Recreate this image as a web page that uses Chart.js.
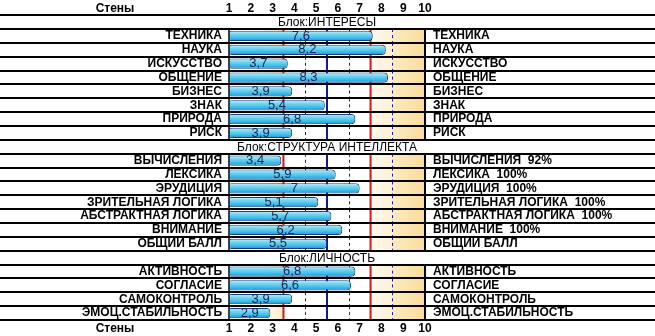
<!DOCTYPE html>
<html>
<head>
<meta charset="utf-8">
<script src="https://cdn.jsdelivr.net/npm/chart.js@4/dist/chart.umd.min.js"></script>
<style>
  html, body { margin: 0; padding: 0; background: #fff; }
  #wrap { width: 655px; height: 336px; position: relative; }
</style>
</head>
<body>
<div id="wrap"><canvas id="chart"></canvas></div>
<script>
// block titles and scales
const blockTitles = ['Блок:ИНТЕРЕСЫ', 'Блок:СТРУКТУРА ИНТЕЛЛЕКТА', 'Блок:ЛИЧНОСТЬ'];

const interestScales = ['ТЕХНИКА', 'НАУКА', 'ИСКУССТВО', 'ОБЩЕНИЕ', 'БИЗНЕС', 'ЗНАК', 'ПРИРОДА', 'РИСК'];
const interestValues = [7.6, 8.2, 3.7, 8.3, 3.9, 5.4, 6.8, 3.9];

const intellectScales = ['ВЫЧИСЛЕНИЯ', 'ЛЕКСИКА', 'ЭРУДИЦИЯ', 'ЗРИТЕЛЬНАЯ ЛОГИКА', 'АБСТРАКТНАЯ ЛОГИКА', 'ВНИМАНИЕ', 'ОБЩИИ БАЛЛ'];
const intellectValues = [3.4, 5.9, 7, 5.1, 5.7, 6.2, 5.5];
const intellectPercent = [92, 100, 100, 100, 100, 100, null];

const personalScales = ['АКТИВНОСТЬ', 'СОГЛАСИЕ', 'САМОКОНТРОЛЬ', 'ЭМОЦ.СТАБИЛЬНОСТЬ'];
const personalValues = [6.8, 6.6, 3.9, 2.9];

const axisTitle = 'Стены';
const stenMin = 1;
const stenMax = 10;
const redBounds = [3.5, 7.5];
const blueBounds = [5.5];
const dashedBounds = [4.5, 6.5, 8.5];

// flatten blocks into rows; header rows carry no value
let leftLabels = [];
let rightLabels = [];
let values = [];
let headerRows = {};

function addBlock(title, names, vals, pct) {
    headerRows[leftLabels.length] = title;
    leftLabels.push('');
    rightLabels.push('');
    values.push(null);
    for (let i = 0; i < names.length; ++i) {
        leftLabels.push(names[i]);
        rightLabels.push(pct && pct[i] != null ? names[i] + '  ' + pct[i] + '%' : names[i]);
        values.push(vals[i]);
    }
}
addBlock(blockTitles[0], interestScales, interestValues);
addBlock(blockTitles[1], intellectScales, intellectValues, intellectPercent);
addBlock(blockTitles[2], personalScales, personalValues);

const FONT = '"Liberation Sans", Arial, sans-serif';

function barFill(c) {
    const chart = c.chart;
    if (!chart.chartArea) return '#5ccbee';
    const cy = chart.scales.y.getPixelForValue(c.dataIndex);
    const g = chart.ctx.createLinearGradient(0, cy - 5, 0, cy + 5);
    g.addColorStop(0, '#c4f3fc');
    g.addColorStop(0.3, '#79d8f3');
    g.addColorStop(0.7, '#3fbbe9');
    g.addColorStop(1, '#2390cc');
    return g;
}

const sheetPlugin = {
    id: 'sheet',
    beforeDatasetsDraw(chart) {
        const ctx = chart.ctx;
        const x = chart.scales.x, y = chart.scales.y;
        const half = (y.getPixelForValue(1) - y.getPixelForValue(0)) / 2;
        const left = x.getPixelForValue(stenMin), right = x.getPixelForValue(stenMax);
        ctx.save();
        for (let i = 0; i < leftLabels.length; ++i) {
            const cy = y.getPixelForValue(i);
            const top = cy - half, bottom = cy + half;
            if (headerRows[i]) {
                ctx.fillStyle = '#000';
                ctx.font = '12px ' + FONT;
                ctx.textAlign = 'center';
                ctx.textBaseline = 'middle';
                ctx.fillText(headerRows[i], (left + right) / 2, cy + 1);
                continue;
            }
            // low and high zones
            let g = ctx.createLinearGradient(x.getPixelForValue(2.4), 0, x.getPixelForValue(redBounds[0]), 0);
            g.addColorStop(0, 'rgba(253,236,200,0)');
            g.addColorStop(1, 'rgba(253,236,200,1)');
            ctx.fillStyle = g;
            ctx.fillRect(x.getPixelForValue(2.4), top, x.getPixelForValue(redBounds[0]) - x.getPixelForValue(2.4), bottom - top);

            const hx = x.getPixelForValue(redBounds[1]);
            g = ctx.createLinearGradient(hx, 0, right, 0);
            g.addColorStop(0, '#fff8ec');
            g.addColorStop(0.4, '#fdf0d6');
            g.addColorStop(0.42, '#fdeac2');
            g.addColorStop(1, '#f9dc98');
            ctx.fillStyle = g;
            ctx.fillRect(hx, top, right - hx, bottom - top);

            ctx.setLineDash([3, 3]);
            ctx.strokeStyle = '#1c1c96';
            ctx.lineWidth = 1;
            dashedBounds.forEach(v => {
                const px = Math.round(x.getPixelForValue(v)) + 0.5;
                ctx.beginPath(); ctx.moveTo(px, top); ctx.lineTo(px, bottom); ctx.stroke();
            });
            ctx.setLineDash([]);
            ctx.lineWidth = 2;
            ctx.strokeStyle = '#16169c';
            blueBounds.forEach(v => {
                const px = x.getPixelForValue(v);
                ctx.beginPath(); ctx.moveTo(px, top); ctx.lineTo(px, bottom); ctx.stroke();
            });
            ctx.strokeStyle = '#d01818';
            redBounds.forEach(v => {
                const px = x.getPixelForValue(v);
                ctx.beginPath(); ctx.moveTo(px, top); ctx.lineTo(px, bottom); ctx.stroke();
            });
            // plot borders
            ctx.strokeStyle = '#000';
            ctx.lineWidth = 1.5;
            ctx.beginPath(); ctx.moveTo(left, top); ctx.lineTo(left, bottom); ctx.stroke();
            ctx.lineWidth = 2;
            ctx.beginPath(); ctx.moveTo(right, top); ctx.lineTo(right, bottom); ctx.stroke();
        }
        ctx.restore();
    },
    afterDatasetsDraw(chart) {
        const ctx = chart.ctx;
        const meta = chart.getDatasetMeta(0);
        ctx.save();
        ctx.fillStyle = '#1a2452';
        ctx.font = '13px ' + FONT;
        ctx.textAlign = 'center';
        ctx.textBaseline = 'middle';
        meta.data.forEach((bar, i) => {
            if (values[i] == null) return;
            ctx.fillText(String(values[i]).replace('.', ','), (bar.x + bar.base) / 2, bar.y);
        });
        ctx.restore();
    },
    afterDraw(chart) {
        const ctx = chart.ctx;
        const y = chart.scales.y;
        const half = (y.getPixelForValue(1) - y.getPixelForValue(0)) / 2;
        ctx.save();
        ctx.strokeStyle = '#000';
        ctx.lineWidth = 2;
        for (let i = 0; i <= leftLabels.length; ++i) {
            const py = Math.round(y.getPixelForValue(i) - half);
            ctx.beginPath(); ctx.moveTo(0, py); ctx.lineTo(chart.width, py); ctx.stroke();
        }
        ctx.fillStyle = '#000';
        ctx.font = 'bold 12px ' + FONT;
        ctx.textAlign = 'center';
        ctx.textBaseline = 'middle';
        const top = chart.scales.x2, bottom = chart.scales.x;
        ctx.fillText(axisTitle, 115, (top.top + top.bottom) / 2);
        ctx.fillText(axisTitle, 115, (bottom.top + bottom.bottom) / 2 + 1);
        ctx.restore();
    }
};

const tickFont = { family: FONT, size: 12, weight: 'bold' };
const sideFont = { family: FONT, size: 12, weight: 'bold' };

new Chart(document.getElementById('chart'), {
    type: 'bar',
    data: {
        labels: leftLabels,
        datasets: [{
            data: values,
            base: stenMin,
            backgroundColor: barFill,
            borderColor: '#173f86',
            borderWidth: 1,
            borderSkipped: false,
            borderRadius: { topLeft: 2, bottomLeft: 2, topRight: 4, bottomRight: 4 },
            barPercentage: 0.74,
            categoryPercentage: 1,
            xAxisID: 'x',
            yAxisID: 'y'
        }]
    },
    options: {
        indexAxis: 'y',
        responsive: true,
        maintainAspectRatio: false,
        animation: false,
        layout: { padding: 0 },
        plugins: { legend: { display: false }, tooltip: { enabled: false } },
        scales: {
            x: {
                position: 'bottom', min: stenMin, max: stenMax,
                grid: { display: false, drawTicks: false }, border: { display: false },
                ticks: { stepSize: 1, font: tickFont, color: '#000', padding: 1 },
                afterFit: s => { s.height = 16; }
            },
            x2: {
                position: 'top', min: stenMin, max: stenMax,
                grid: { display: false, drawTicks: false }, border: { display: false },
                ticks: { stepSize: 1, font: tickFont, color: '#000', padding: -1 },
                afterFit: s => { s.height = 13; }
            },
            y: {
                position: 'left',
                grid: { display: false, drawTicks: false }, border: { display: false },
                ticks: { autoSkip: false, font: sideFont, color: '#000', padding: 7 },
                afterFit: s => { s.width = 229; }
            },
            y2: {
                type: 'category', position: 'right', labels: rightLabels, offset: true,
                grid: { display: false, drawTicks: false }, border: { display: false },
                ticks: { autoSkip: false, font: sideFont, color: '#000', padding: 8 },
                afterFit: s => { s.width = 230; }
            }
        }
    },
    plugins: [sheetPlugin]
});
</script>
</body>
</html>
